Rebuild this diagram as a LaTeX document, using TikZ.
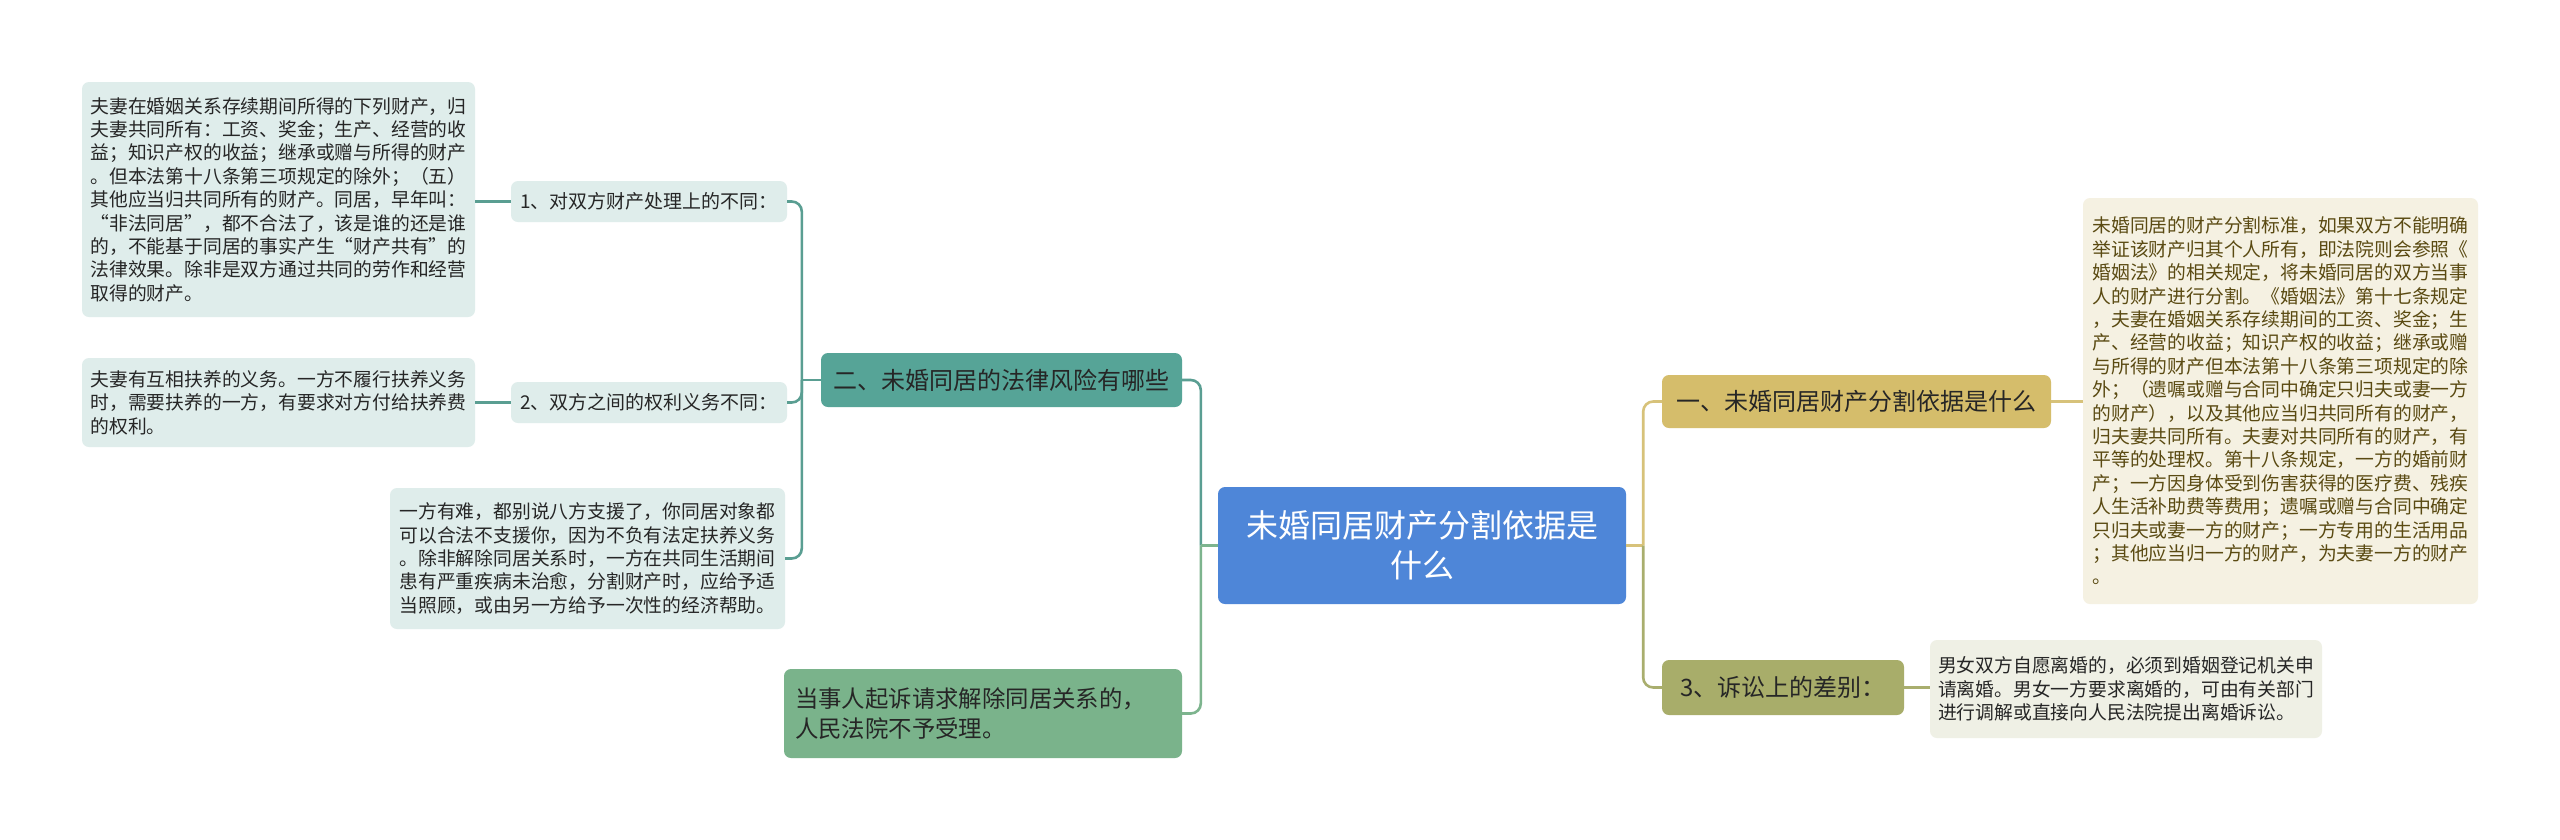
\documentclass[tikz,border=0pt]{standalone}
\usepackage{fontspec}
\setmainfont{Noto Sans CJK SC}
\newfontfamily\fullw[CharacterWidth=Full]{Noto Sans CJK SC}

\definecolor{rootblue}{HTML}{4E86D8}
\definecolor{tealtopic}{HTML}{56A497}
\definecolor{tealline}{HTML}{5A9E92}
\definecolor{tealpale}{HTML}{DFEDEB}
\definecolor{greentopic}{HTML}{7AB38B}
\definecolor{greenline}{HTML}{7DB48E}
\definecolor{goldtopic}{HTML}{D5BD6B}
\definecolor{goldline}{HTML}{D7C27A}
\definecolor{goldpale}{HTML}{F5F1E2}
\definecolor{olivetopic}{HTML}{A8AD6A}
\definecolor{oliveline}{HTML}{A9AE6E}
\definecolor{olivepale}{HTML}{EFF0E5}
\definecolor{ink}{HTML}{262626}
\definecolor{inkbrown}{HTML}{5A4A12}

\begin{document}
\begin{tikzpicture}[
      x=1pt, y=-1pt,
      box/.style={rounded corners=7pt, inner sep=0pt, text=ink},
      root/.style={box, fill=rootblue, text=white, align=center, minimum width=408pt, minimum height=117pt, font=\fontsize{32}{40}\selectfont},
      topic/.style={box, align=center, minimum height=54pt, font=\fontsize{24}{30}\selectfont},
      sub/.style={box, fill=tealpale, minimum width=276pt, minimum height=41pt, font=\fontsize{19}{24}\selectfont},
      note/.style={box, align=left, text width=376pt, font=\fontsize{18.8}{23.4}\selectfont},
      link/.style={line width=2.6pt},
      fork/.style={link, rounded corners=10pt}
    ]
    \useasboundingbox[fill=white] (0,0) rectangle (2560,839);

    % centre
    \node[root] (root) at (1422,545.5) {未婚同居财产分割依据是\\什么};

    % left side
    \node[topic, fill=tealtopic, minimum width=361pt] (risk) at (1001.5,380) {二、未婚同居的法律风险有哪些};
    \node[topic, fill=greentopic, minimum width=398pt, minimum height=89pt, text width=376pt, align=left, font=\fontsize{23.4}{30}\selectfont] (court) at (983,713.5) {当事人起诉请求解除同居关系的，\\人民法院不予受理。};
    \node[sub] (prop) at (649,201.5) {1、对双方财产处理上的不同：};
    \node[sub] (duty) at (649,402.5) {2、双方之间的权利义务不同：};
    \node[note, fill=tealpale, minimum width=393pt, minimum height=235pt] (propnote) at (278.5,199.5) {夫妻在婚姻关系存续期间所得的下列财产，归\\夫妻共同所有：工资、奖金；生产、经营的收\\益；知识产权的收益；继承或赠与所得的财产\\。但本法第十八条第三项规定的除外；（五）\\其他应当归共同所有的财产。同居，早年叫：\\{\fullw “}非法同居{\fullw ”}，都不合法了，该是谁的还是谁\\的，不能基于同居的事实产生{\fullw “}财产共有{\fullw ”}的\\法律效果。除非是双方通过共同的劳作和经营\\取得的财产。};
    \node[note, fill=tealpale, minimum width=393pt, minimum height=89pt] (dutynote) at (278.5,402.5) {夫妻有互相扶养的义务。一方不履行扶养义务\\时，需要扶养的一方，有要求对方付给扶养费\\的权利。};
    \node[note, fill=tealpale, minimum width=395pt, minimum height=141pt] (aidnote) at (587.5,558.5) {一方有难，都别说八方支援了，你同居对象都\\可以合法不支援你，因为不负有法定扶养义务\\。除非解除同居关系时，一方在共同生活期间\\患有严重疾病未治愈，分割财产时，应给予适\\当照顾，或由另一方给予一次性的经济帮助。};

    % right side
    \node[topic, fill=goldtopic, minimum width=389pt, minimum height=53pt] (basis) at (1856.5,401.5) {一、未婚同居财产分割依据是什么};
    \node[topic, fill=olivetopic, minimum width=242pt, minimum height=55pt] (suit) at (1783,687.5) {3、诉讼上的差别：};
    \node[note, fill=goldpale, text=inkbrown, minimum width=395pt, minimum height=406pt] (basisnote) at (2280.5,401) {未婚同居的财产分割标准，如果双方不能明确\\举证该财产归其个人所有，即法院则会参照《\\婚姻法》的相关规定，将未婚同居的双方当事\\人的财产进行分割。《婚姻法》第十七条规定\\，夫妻在婚姻关系存续期间的工资、奖金；生\\产、经营的收益；知识产权的收益；继承或赠\\与所得的财产但本法第十八条第三项规定的除\\外；（遗嘱或赠与合同中确定只归夫或妻一方\\的财产），以及其他应当归共同所有的财产，\\归夫妻共同所有。夫妻对共同所有的财产，有\\平等的处理权。第十八条规定，一方的婚前财\\产；一方因身体受到伤害获得的医疗费、残疾\\人生活补助费等费用；遗嘱或赠与合同中确定\\只归夫或妻一方的财产；一方专用的生活用品\\；其他应当归一方的财产，为夫妻一方的财产\\。};
    \node[note, fill=olivepale, text=ink, minimum width=392pt, minimum height=98pt] (suitnote) at (2126,689) {男女双方自愿离婚的，必须到婚姻登记机关申\\请离婚。男女一方要求离婚的，可由有关部门\\进行调解或直接向人民法院提出离婚诉讼。};

    % connectors
    \draw[link, tealline] (root.west) -- ++(-17,0) coordinate (lj);
    \draw[fork, tealline] (lj) |- (risk.east);
    \draw[link, greenline] (root.west) -- (lj);
    \draw[fork, greenline] (lj) |- (court.east);
    \draw[link, tealline] (risk.west) -- ++(-19,0) coordinate (rj);
    \draw[fork, tealline] (rj) |- (prop.east);
    \draw[fork, tealline] (rj) |- (duty.east);
    \draw[fork, tealline] (rj) |- (aidnote.east);
    \draw[link, tealline] (prop.west) -- (prop.west -| propnote.east);
    \draw[link, tealline] (duty.west) -- (duty.west -| dutynote.east);
    \draw[link, goldline] (root.east) -- ++(17,0) coordinate (rtj);
    \draw[fork, goldline] (rtj) |- (basis.west);
    \draw[fork, oliveline] (rtj) |- (suit.west);
    \draw[link, goldline] (basis.east) -- (basis.east -| basisnote.west);
    \draw[link, oliveline] (suit.east) -- (suit.east -| suitnote.west);
  \end{tikzpicture}
\end{document}
